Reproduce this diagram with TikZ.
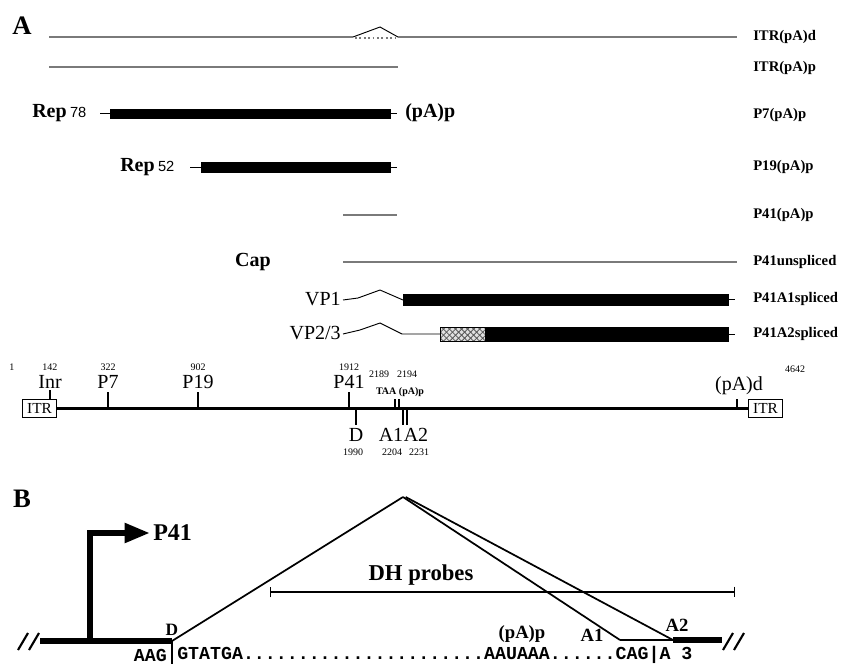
\documentclass[tikz,border=0pt]{standalone}
\usepackage{fontspec}
\setmainfont{Liberation Serif}
\setmonofont{Liberation Mono}
\newfontfamily\numfont{Liberation Sans}
\usepackage{tikz}
\usetikzlibrary{arrows.meta, patterns.meta, positioning}
\definecolor{rnagray}{HTML}{7A7A7A}
\definecolor{hatchgray}{HTML}{555555}
\tikzset{
  % Panel letters
  panel/.style={font=\fontsize{20}{22}\selectfont\bfseries, inner sep=0pt},
  % Transcript names on the right
  txname/.style={anchor=west, font=\fontsize{11}{12}\selectfont\bfseries, inner sep=0pt},
  % Transcript lines and coding bars
  rna/.style={draw=rnagray, line width=1.4pt},
  intron/.style={draw=black, line width=0.7pt},
  orf/.style={draw=black, fill=black, line width=0.4pt},
  bigbold/.style={font=\fontsize{15}{17}\selectfont\bfseries, inner sep=0pt},
  bigtext/.style={font=\fontsize{15}{17}\selectfont, inner sep=0pt},
  % Genome map
  genome/.style={line width=2.6pt},
  tick/.style={line width=1.3pt},
  itrbox/.style={draw, line width=0.7pt, minimum width=26pt, minimum height=14pt,
    inner sep=0pt, font=\fontsize{11.5}{12}\selectfont},
  ntpos/.style={font=\fontsize{7.5}{8}\selectfont, inner sep=0pt},
  % Panel B
  exon/.style={line width=5.2pt},
  splice/.style={line width=1.3pt},
  slash/.style={line width=1.6pt},
  seqtext/.style={font=\fontsize{13.7}{15}\selectfont\ttfamily\bfseries, inner sep=0pt},
  blabel/.style={font=\fontsize{14}{16}\selectfont\bfseries, inner sep=0pt},
}

\begin{document}
\begin{tikzpicture}[x=0.75pt, y=-0.75pt]
  \useasboundingbox (0,0) rectangle (843,664);

  % Panel A
  \node[panel] (lab-a) at (22,26) {A};

  % ITR(pA)d
  \draw[rna] (49,37) -- (353,37);
  \draw[intron] (353,37) -- (380,27) -- (398,37);
  \draw[rnagray, line width=1.3pt, dotted] (355,38) -- (397,38);
  \draw[rna] (398,37) -- (737,37);
  \node[txname] (tx-itrd) at (753,37) {ITR(pA)d};

  % ITR(pA)p
  \draw[rna] (49,67) -- (398,67);
  \node[txname] (tx-itrp) at (753,68) {ITR(pA)p};

  % P7(pA)p
  \node[anchor=west, inner sep=0pt] (rep78) at (32,113)
    {\fontsize{15}{17}\selectfont\bfseries Rep\,{\mdseries\numfont\fontsize{11}{12}\selectfont 78}};
  \draw[intron] (100,113) -- (110,113);
  \draw[orf] (110,109) rectangle (390,118);
  \draw[intron] (390,113) -- (397,113);
  \node[bigbold, anchor=west] (pap-a) at (405,113) {(pA)p};
  \node[txname] (tx-p7) at (753,115) {P7(pA)p};

  % P19(pA)p
  \node[anchor=west, inner sep=0pt] (rep52) at (120,167)
    {\fontsize{15}{17}\selectfont\bfseries Rep\,{\mdseries\numfont\fontsize{11}{12}\selectfont 52}};
  \draw[intron] (190,167) -- (201,167);
  \draw[orf] (201,162) rectangle (390,172);
  \draw[intron] (390,167) -- (397,167);
  \node[txname] (tx-p19) at (753,167) {P19(pA)p};

  % P41(pA)p
  \draw[rna] (343,215) -- (397,215);
  \node[txname] (tx-p41p) at (753,215) {P41(pA)p};

  % P41 unspliced
  \node[bigbold] (cap) at (253,262) {Cap};
  \draw[rna] (343,262) -- (737,262);
  \node[txname] (tx-p41u) at (753,262) {P41unspliced};

  % P41 A1 spliced
  \node[bigtext, anchor=east] (vp1) at (341,299) {VP1};
  \draw[intron] (343,300) -- (358,298) -- (380,290) -- (403,300);
  \draw[orf] (403,294) rectangle (728,305);
  \draw[intron] (728,299) -- (735,299);
  \node[txname] (tx-a1) at (753,299) {P41A1spliced};

  % P41 A2 spliced
  \node[bigtext, anchor=east] (vp23) at (341,333) {VP2/3};
  \draw[intron] (343,334) -- (360,330) -- (380,323) -- (402,334) -- (440,334);
  \fill[black!12] (440,327) rectangle (485,341);
  \fill[pattern={Lines[angle=45, distance=3.2pt, line width=0.6pt]}, pattern color=hatchgray]
    (440,327) rectangle (485,341);
  \fill[pattern={Lines[angle=-45, distance=3.2pt, line width=0.6pt]}, pattern color=hatchgray]
    (440,327) rectangle (485,341);
  \fill[black] (485,327) rectangle (728,341);
  \draw[line width=0.6pt] (440,327) rectangle (728,341);
  \draw[intron] (728,334) -- (735,334);
  \node[txname] (tx-a2) at (753,334) {P41A2spliced};

  % Genome map
  \node[itrbox] (itr-l) at (39.5,408.5) {ITR};
  \node[itrbox] (itr-r) at (765.5,408.5) {ITR};
  \draw[genome] (itr-l.east) -- (itr-r.west);

  \node[ntpos] (n1) at (12,367) {1};
  \node[ntpos] (n142) at (50,367) {142};
  \node[bigtext] (inr) at (50,382) {Inr};
  \draw[tick] (50,399) -- (50,390);
  \node[ntpos] (n322) at (108,367) {322};
  \node[bigtext] (p7) at (108,382) {P7};
  \draw[tick] (108,409) -- (108,392);
  \node[ntpos] (n902) at (198,367) {902};
  \node[bigtext] (p19) at (198,382) {P19};
  \draw[tick] (198,409) -- (198,392);
  \node[ntpos] (n1912) at (349,367) {1912};
  \node[bigtext] (p41) at (349,382) {P41};
  \draw[tick] (349,409) -- (349,392);
  \node[ntpos] (n2189) at (379,374) {2189};
  \node[ntpos] (n2194) at (407,374) {2194};
  \node[ntpos, font=\fontsize{7.5}{8}\selectfont\bfseries] (taa) at (400,392) {TAA (pA)p};
  \draw[tick] (395,409) -- (395,399);
  \draw[tick] (399,409) -- (399,399);
  \node[bigtext] (pad) at (739,386) {(pA)d};
  \draw[tick] (737,409) -- (737,399);
  \node[ntpos] (n4642) at (795,369) {4642};

  \draw[tick] (356,409) -- (356,425);
  \draw[tick] (403,409) -- (403,425);
  \draw[tick] (407,409) -- (407,425);
  \node[bigtext] (d-a) at (356,435) {D};
  \node[bigtext] (a1-a) at (391,435) {A1};
  \node[bigtext] (a2-a) at (416,435) {A2};
  \node[ntpos] (n1990) at (353,452) {1990};
  \node[ntpos] (n2204) at (392,452) {2204};
  \node[ntpos] (n2231) at (419,452) {2231};

  % Panel B
  \node[panel] (lab-b) at (22,499) {B};

  \coordinate (left-end) at (40,641);
  \coordinate (don) at (172,641);
  \coordinate (peak) at (403,497);
  \coordinate (acc1) at (620,640);
  \coordinate (acc2) at (673,640);
  \coordinate (right-end) at (722,640);

  \draw[slash] (18,650) -- (28,633);
  \draw[slash] (29,650) -- (39,633);
  \draw[exon] (left-end) -- (don);
  \draw[line width=4.5pt, -{Triangle[length=19pt, width=14pt]}] (90,641) -- (90,533) -- (150,533);
  \node[font=\fontsize{18}{20}\selectfont\bfseries, anchor=west, inner sep=0pt] (p41-b) at (153,533) {P41};
  \node[font=\fontsize{13}{15}\selectfont\bfseries, inner sep=0pt] (d-b) at (172,630) {D};

  \draw[splice] (don) -- (peak);
  \draw[splice] (peak) -- (acc1);
  \draw[splice] ([xshift=2pt]peak) -- (acc2);
  \draw[splice] (acc1) -- (acc2);
  \draw[exon] (acc2) -- (right-end);
  \draw[slash] (723,650) -- (733,633);
  \draw[slash] (734,650) -- (744,633);

  \node[blabel] (pap-b) at (522,634) {(pA)p};
  \node[blabel] (a1-b) at (592,635) {A1};
  \node[blabel] (a2-b) at (677,625) {A2};

  % DH probes
  \coordinate (probe-l) at (270,592);
  \coordinate (probe-r) at (735,592);
  \draw[line width=1pt, {Bar[width=8pt]}-{Bar[width=8pt]}] (probe-l) -- (probe-r);
  \node[font=\fontsize{17}{19}\selectfont\bfseries, inner sep=0pt] (dh) at (421,575) {DH probes};

  % Sequence
  \node[seqtext, anchor=east] (seq-aag) at (167,655) {AAG};
  \draw[line width=1pt] (don) -- (172,664);
  \node[seqtext, anchor=west] (seq-rest) at (177,655)
    {GTATGA......................AAUAAA......CAG|A 3};
\end{tikzpicture}
\end{document}
